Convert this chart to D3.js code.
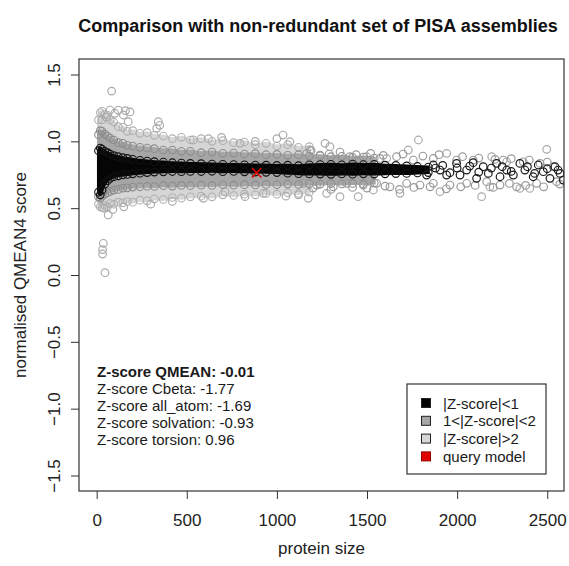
<!DOCTYPE html>
<html>
<head>
<meta charset="utf-8">
<script src="https://cdn.jsdelivr.net/npm/d3@7"></script>
<style>
  body { margin: 0; background: #fff; }
  text { font-family: "Liberation Sans", Arial, Helvetica, sans-serif; fill: #111; }
</style>
</head>
<body>
<div id="chart"></div>
<script>
// axis ticks
const xTicks = [0, 500, 1000, 1500, 2000, 2500];
const yTicks = [-1.5, -1.0, -0.5, 0.0, 0.5, 1.0, 1.5];

// dense part of the cloud, read as upper / lower edge per protein size
const bandSizes = [10, 20, 30, 45, 60, 75, 95, 120, 145, 170, 200, 240, 280, 320, 370, 420, 470, 520, 580, 640,
  700, 760, 820, 880, 940, 1000, 1060, 1120, 1180, 1240, 1300, 1360, 1420, 1480, 1540, 1600, 1660, 1720, 1780, 1840];
const lightHi = [1.16, 1.215, 1.225, 1.20, 1.195, 1.16, 1.145, 1.11, 1.105, 1.075, 1.08, 1.06, 1.065, 1.045, 1.04, 1.02, 1.03, 1.01, 1.02, 1.0,
  1.005, 0.99, 0.995, 0.975, 0.985, 0.965, 0.975, 0.955, 0.96, null, null, null, null, null, null, null, null, null, null, null];
const lightLo = [0.53, 0.51, 0.505, 0.52, 0.51, 0.535, 0.53, 0.545, 0.54, 0.55, 0.545, 0.56, 0.555, 0.57, 0.565, 0.58, 0.575, 0.585, 0.59, 0.585,
  0.60, 0.595, 0.605, 0.60, 0.61, 0.605, 0.615, 0.61, 0.62, null, null, null, null, null, null, null, null, null, null, null];
const greyHi = [1.05, 1.08, 1.075, 1.055, 1.04, 1.025, 1.01, 0.99, 0.985, 0.97, 0.965, 0.955, 0.95, 0.945, 0.935, 0.935, 0.925, 0.925, 0.915, 0.92,
  0.91, 0.912, 0.905, 0.908, 0.90, 0.902, 0.895, 0.90, 0.89, 0.893, 0.885, 0.888, 0.88, 0.883, 0.875, null, null, null, null, null];
const greyLo = [0.585, 0.575, 0.59, 0.605, 0.615, 0.625, 0.635, 0.64, 0.65, 0.652, 0.658, 0.66, 0.664, 0.662, 0.668, 0.665, 0.67, 0.668, 0.672, 0.67,
  0.675, 0.672, 0.676, 0.674, 0.678, 0.675, 0.68, 0.677, 0.682, 0.68, 0.684, 0.681, 0.685, 0.683, 0.688, null, null, null, null, null];
const blackHi = [0.93, 0.95, 0.94, 0.925, 0.915, 0.905, 0.893, 0.885, 0.878, 0.872, 0.866, 0.858, 0.853, 0.848, 0.845, 0.84, 0.838, 0.835, 0.833, 0.83,
  0.828, 0.826, 0.825, 0.823, 0.822, 0.82, 0.822, 0.818, 0.824, 0.826, 0.828, 0.825, 0.83, 0.826, 0.828, 0.822, 0.82, 0.816, 0.812, 0.808];
const blackLo = [0.62, 0.60, 0.635, 0.68, 0.705, 0.722, 0.735, 0.742, 0.748, 0.752, 0.757, 0.762, 0.766, 0.77, 0.772, 0.774, 0.773, 0.775, 0.774, 0.776,
  0.773, 0.775, 0.772, 0.77, 0.768, 0.766, 0.762, 0.758, 0.756, 0.755, 0.753, 0.756, 0.754, 0.757, 0.755, 0.757, 0.759, 0.76, 0.763, 0.766];

// single, readable points [protein size, score]
const lightPoints = [
  [83, 1.376], [37, 0.237], [33, 0.19], [33, 0.157], [46, 0.017], [64, 0.449],
  [74, 1.234], [120, 1.234], [185, 1.22], [55, 1.18], [148, 1.197], [175, 1.147], [30, 1.16], [100, 1.21], [160, 1.23],
  [342, 1.147], [333, 1.097], [350, 1.12],
  [536, 1.01], [693, 1.03], [795, 0.985], [1034, 1.047], [1072, 0.997], [1183, 0.935], [1000, 1.02], [880, 1.0], [620, 1.02],
  [823, 0.586], [925, 0.611], [1174, 0.574], [592, 0.574], [712, 0.623], [40, 0.50], [90, 0.49], [150, 0.51], [300, 0.53], [420, 0.55],
  [1785, 1.01], [2497, 0.94], [1294, 0.96], [1267, 0.985], [1729, 0.935], [2192, 0.885], [1942, 0.91], [1498, 0.885], [1609, 0.872], [2275, 0.847],
  [1451, 0.586], [2136, 0.586], [1350, 0.586], [1683, 0.611], [1905, 0.623], [2348, 0.648], [2403, 0.648], [2182, 0.66], [1535, 0.636], [1276, 0.611], [1050, 0.59], [1120, 0.60]
];
const greyPoints = [
  [1165, 0.91], [1239, 0.897], [1332, 0.86], [1405, 0.885], [1461, 0.86], [1572, 0.872], [1664, 0.885], [1757, 0.86], [1868, 0.872], [1997, 0.86],
  [2089, 0.86], [2256, 0.86], [2367, 0.847], [2460, 0.835], [2533, 0.81],
  [1190, 0.93], [1290, 0.905], [1350, 0.92], [1440, 0.90], [1520, 0.91], [1590, 0.895], [1700, 0.905], [1810, 0.89], [1900, 0.90], [2030, 0.885],
  [2120, 0.875], [2210, 0.865], [2300, 0.87], [2400, 0.86], [2500, 0.845],
  [1146, 0.686], [1220, 0.673], [1313, 0.66], [1387, 0.686], [1479, 0.673], [1553, 0.686], [1627, 0.66], [1720, 0.686], [1794, 0.673], [1868, 0.686],
  [1960, 0.673], [2053, 0.686], [2164, 0.698], [2238, 0.673], [2330, 0.66], [2441, 0.686], [2552, 0.698],
  [1200, 0.65], [1300, 0.64], [1420, 0.655], [1500, 0.65], [1600, 0.665], [1680, 0.64], [1760, 0.655], [1850, 0.66], [1940, 0.645], [2020, 0.66],
  [2100, 0.67], [2200, 0.655], [2290, 0.685], [2380, 0.67], [2480, 0.66], [2570, 0.68]
];
const blackPoints = [
  [1831, 0.748], [1868, 0.823], [1905, 0.785], [1942, 0.748], [1880, 0.80], [1920, 0.82], [1960, 0.765], [2000, 0.80],
  [1997, 0.835], [2016, 0.748], [2053, 0.785], [2089, 0.84], [2108, 0.723], [2145, 0.81], [2173, 0.76], [2219, 0.835], [2238, 0.735], [2275, 0.785],
  [2070, 0.815], [2120, 0.77], [2190, 0.80], [2250, 0.81], [2300, 0.775], [2390, 0.81], [2430, 0.76], [2500, 0.795], [2560, 0.785],
  [2312, 0.748], [2348, 0.835], [2376, 0.785], [2422, 0.735], [2450, 0.823], [2478, 0.773], [2515, 0.723], [2543, 0.81], [2571, 0.76], [2589, 0.71]
];
const queryModel = [888, 0.765];

const zScores = [
  "Z-score QMEAN: -0.01",
  "Z-score Cbeta: -1.77",
  "Z-score all_atom: -1.69",
  "Z-score solvation: -0.93",
  "Z-score torsion: 0.96"
];
const legendLabels = ["|Z-score|<1", "1<|Z-score|<2", "|Z-score|>2", "query model"];
const legendColors = ["#000000", "#a6a6a6", "#d6d6d6", "#e00000"];

const width = 569;
const height = 566;
const plot = { left: 79, right: 564, top: 59, bottom: 491 };

const svg = d3.select("#chart")
  .append("svg")
  .attr("width", width)
  .attr("height", height)
  .style("background", "#fff");

const x = d3.scaleLinear().domain([-98, 2593]).range([plot.left, plot.right]);
const y = d3.scaleLinear().domain([-1.616, 1.616]).range([plot.bottom, plot.top]);

svg.append("clipPath").attr("id", "clip")
  .append("rect")
  .attr("x", plot.left).attr("y", plot.top)
  .attr("width", plot.right - plot.left).attr("height", plot.bottom - plot.top);

const g = svg.append("g").attr("clip-path", "url(#clip)");

function drawBand(hi, lo, fill, ring) {
  const rows = bandSizes.map((s, i) => ({ s, hi: hi[i], lo: lo[i] })).filter(d => d.hi != null);
  const area = d3.area()
    .curve(d3.curveMonotoneX)
    .x(d => x(d.s))
    .y0(d => y(d.lo))
    .y1(d => y(d.hi));
  g.append("path")
    .datum(rows)
    .attr("d", area)
    .attr("fill", fill)
    .attr("stroke", fill)
    .attr("stroke-width", 3);
  const edge = rows.flatMap(d => [[d.s, d.hi], [d.s, d.lo]]);
  g.append("g").selectAll("circle")
    .data(edge)
    .enter()
    .append("circle")
    .attr("cx", d => x(d[0]))
    .attr("cy", d => y(d[1]))
    .attr("r", 3.8)
    .attr("fill", "none")
    .attr("stroke", ring)
    .attr("stroke-width", 1.1);
}

function drawPoints(pts, ring) {
  g.append("g").selectAll("circle")
    .data(pts)
    .enter()
    .append("circle")
    .attr("cx", d => x(d[0]))
    .attr("cy", d => y(d[1]))
    .attr("r", 3.8)
    .attr("fill", "none")
    .attr("stroke", ring)
    .attr("stroke-width", 1.2);
}

drawBand(lightHi, lightLo, "#d6d6d6", "#b0b0b0");
drawPoints(lightPoints, "#ababab");
drawBand(greyHi, greyLo, "#a6a6a6", "#8c8c8c");
drawPoints(greyPoints, "#9a9a9a");
drawBand(blackHi, blackLo, "#050505", "#111");
drawPoints(blackPoints, "#1a1a1a");

g.append("path")
  .attr("transform", `translate(${x(queryModel[0])},${y(queryModel[1])})`)
  .attr("d", d3.symbol().type(d3.symbolX).size(60)())
  .attr("fill", "none")
  .attr("stroke", "#e00000")
  .attr("stroke-width", 1.6);

// frame
svg.append("rect")
  .attr("x", plot.left).attr("y", plot.top)
  .attr("width", plot.right - plot.left).attr("height", plot.bottom - plot.top)
  .attr("fill", "none").attr("stroke", "#333").attr("stroke-width", 1.2);

// axes
const xAxis = svg.append("g")
  .attr("transform", `translate(0, ${plot.bottom})`)
  .call(d3.axisBottom(x).tickValues(xTicks).tickSize(8).tickPadding(15).tickFormat(d3.format("d")));
xAxis.select(".domain").remove();
xAxis.selectAll("line").attr("stroke", "#333");
xAxis.selectAll("text").style("font-size", "17px").style("fill", "#222");

const yAxis = svg.append("g")
  .attr("transform", `translate(${plot.left}, 0)`)
  .call(d3.axisLeft(y).tickValues(yTicks).tickSize(8).tickFormat(d3.format(".1f")));
yAxis.select(".domain").remove();
yAxis.selectAll("line").attr("stroke", "#333");
yAxis.selectAll("text")
  .attr("x", 0)
  .attr("dy", 0)
  .attr("transform", "translate(-19,0) rotate(-90)")
  .attr("text-anchor", "middle")
  .style("font-size", "17px")
  .style("fill", "#222");

svg.append("text")
  .attr("x", (plot.left + plot.right) / 2)
  .attr("y", 554)
  .attr("text-anchor", "middle")
  .style("font-size", "17px")
  .style("fill", "#222")
  .text("protein size");

svg.append("text")
  .attr("transform", `translate(26, ${(plot.top + plot.bottom) / 2}) rotate(-90)`)
  .attr("text-anchor", "middle")
  .style("font-size", "17px")
  .style("fill", "#222")
  .text("normalised QMEAN4 score");

svg.append("text")
  .attr("x", 318)
  .attr("y", 32)
  .attr("text-anchor", "middle")
  .style("font-size", "18px")
  .style("font-weight", "bold")
  .text("Comparison with non-redundant set of PISA assemblies");

// z-score block
zScores.forEach((t, i) => {
  svg.append("text")
    .attr("x", 97)
    .attr("y", 377 + i * 17)
    .style("font-size", "15px")
    .style("font-weight", i === 0 ? "bold" : "normal")
    .style("fill", "#1a1a1a")
    .text(t);
});

// legend
const legend = svg.append("g").attr("transform", "translate(407, 384)");
legend.append("rect")
  .attr("width", 139).attr("height", 90)
  .attr("fill", "#fff").attr("stroke", "#333").attr("stroke-width", 1.2);
legendLabels.forEach((label, i) => {
  const row = legend.append("g").attr("transform", `translate(0, ${19 + i * 17.8})`);
  row.append("rect")
    .attr("x", 14.5).attr("y", -4.5)
    .attr("width", 9).attr("height", 9)
    .attr("fill", legendColors[i])
    .attr("stroke", i === 3 ? "#900" : "#222");
  row.append("text")
    .attr("x", 36).attr("y", 5.5)
    .style("font-size", "15px")
    .style("fill", "#1a1a1a")
    .text(label);
});
</script>
</body>
</html>
